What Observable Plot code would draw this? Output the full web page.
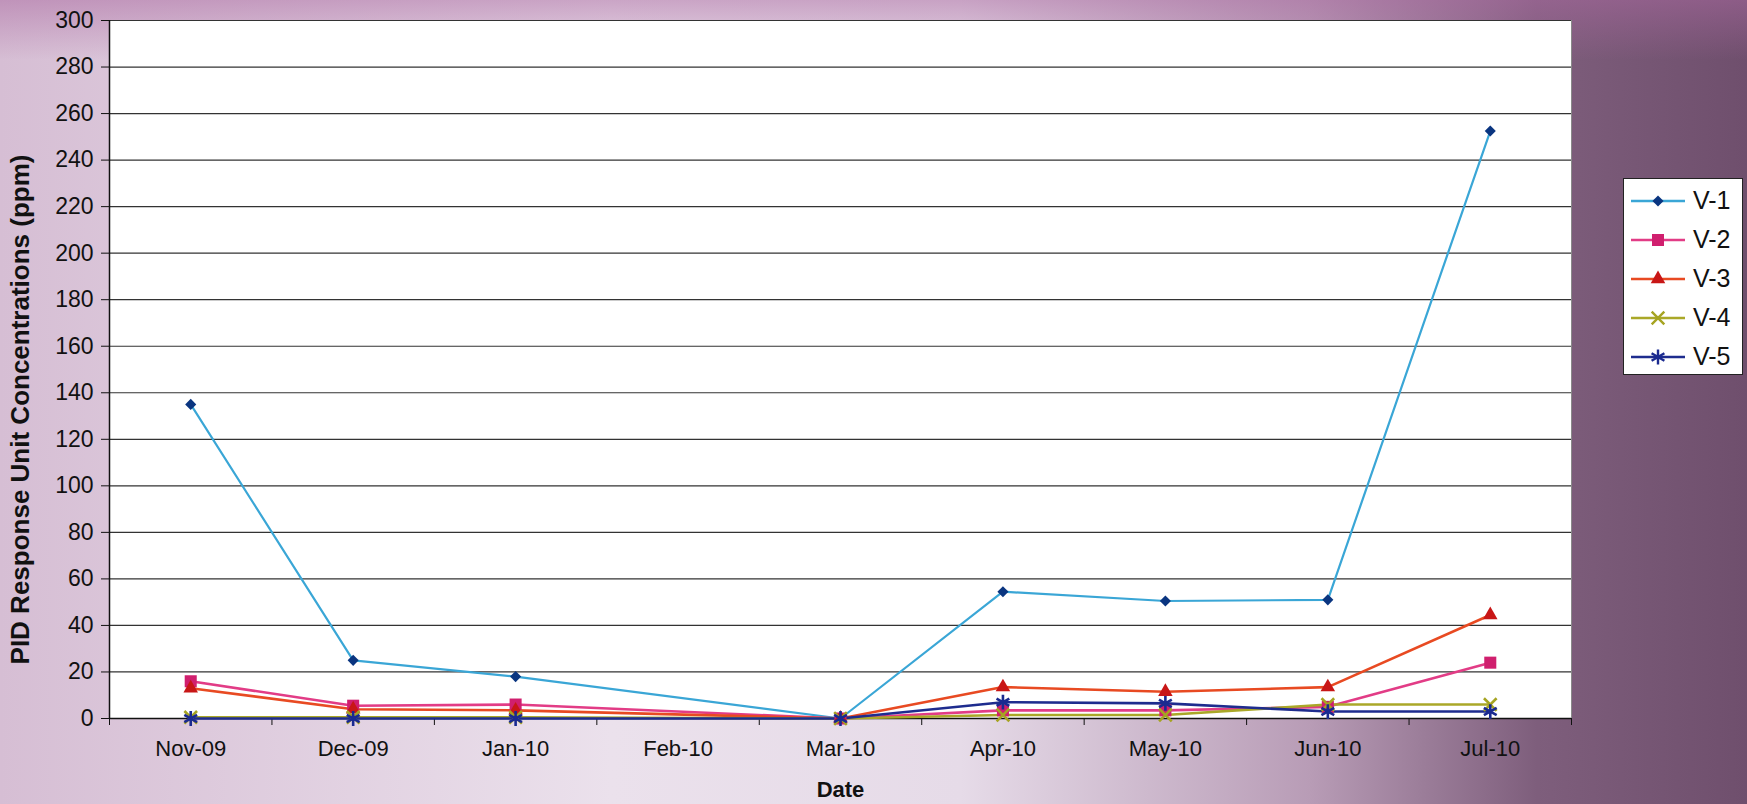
<!DOCTYPE html>
<html>
<head>
<meta charset="utf-8">
<script src="https://cdn.jsdelivr.net/npm/d3@7"></script>
<script src="https://cdn.jsdelivr.net/npm/@observablehq/plot@0.6"></script>
<style>
  html, body { margin: 0; padding: 0; }
  body {
    width: 1747px; height: 804px; overflow: hidden; position: relative;
    font-family: "Liberation Sans", Arial, sans-serif;
    background:
      linear-gradient(to bottom, rgba(170,105,160,0.5) 0px, rgba(170,105,160,0) 60px),
      linear-gradient(to right, #d6bed4 0%, #ebe1ec 35%, #e6dbe8 55%, #b89cb6 75%, #7e5e7c 88%, #6f4f6d 100%);
  }
  #chart { position: absolute; left: 0; top: 0; }
  #chart svg { background: transparent !important; }
  #chart [aria-label="y-axis label"] text { font-weight: bold; font-size: 26px; }
  #chart [aria-label="x-axis label"] text { font-weight: bold; font-size: 22px; }
  #legend {
    position: absolute; left: 1623px; top: 178px; width: 120px; height: 197px;
    background: white; border: 1.5px solid #222; box-sizing: border-box;
    padding-top: 2px;
  }
  .row { display: flex; align-items: center; height: 39px; }
  .row svg { margin-left: 6px; }
  .row span { font-size: 25px; margin-left: 7px; color: #111; }
</style>
</head>
<body>
<div id="chart"></div>
<div id="legend"></div>
<script>
const months = ["Nov-09","Dec-09","Jan-10","Feb-10","Mar-10","Apr-10","May-10","Jun-10","Jul-10"];
const seriesNames = ["V-1","V-2","V-3","V-4","V-5"];
const v1 = [135, 25, 18, null, 0, 54.5, 50.5, 51, 252.5];
const v2 = [16, 5.5, 6, null, 0, 3.5, 3.5, 5, 24];
const v3 = [13, 4, 3.5, null, 0, 13.5, 11.5, 13.5, 44.5];
const v4 = [0.5, 0.5, 0.5, null, 0, 1.5, 1.5, 6, 6];
const v5 = [0, 0, 0, null, 0, 7, 6.5, 3, 3];
const yTicks = d3.range(0, 301, 20);

const lineColors = ["#3aa6d6", "#e23c86", "#e84a22", "#aaa828", "#1e2c8e"];
const markColors = ["#0a3580", "#d01f6e", "#c81616", "#a6a422", "#1a2a90"];
const symbols = ["diamond2", "square", "triangle", "times", "asterisk"];
const radii = [5, 6.8, 5.4, 5.8, 7];
const strokeSym = [false, false, false, true, true];

const allValues = [v1, v2, v3, v4, v5];
const series = seriesNames.map((name, s) => ({
  name,
  data: allValues[s].map((y, i) => ({i, month: months[i], y})).filter(d => d.y != null)
}));

const marks = [
  Plot.frame({fill: "white", stroke: "#8a8a8a"}),
  Plot.gridY(yTicks, {stroke: "#333", strokeOpacity: 1, strokeWidth: 1.2}),
  Plot.ruleX([-0.5], {stroke: "#111", strokeWidth: 1.5}),
  Plot.ruleY([0], {stroke: "#111", strokeWidth: 1.5}),
  Plot.axisY(yTicks, {anchor: "left", tickSize: 8, tickPadding: 8, fontSize: 23, stroke: "#111",
    label: "PID Response Unit Concentrations (ppm)", labelArrow: "none", labelAnchor: "center", labelOffset: 99}),
  Plot.axisX(d3.range(-0.5, 9, 1), {anchor: "bottom", tickSize: 7, tickFormat: () => "", stroke: "#111", label: null}),
  Plot.axisX(d3.range(0, 9), {anchor: "bottom", tickSize: 0, tickPadding: 22, fontSize: 22,
    tickFormat: i => months[i], label: "Date", labelArrow: "none", labelAnchor: "center", labelOffset: 78})
];
series.forEach((s, k) => {
  marks.push(Plot.line(s.data, {x: "i", y: "y", stroke: lineColors[k], strokeWidth: k === 0 ? 2.2 : 2.6}));
});
series.forEach((s, k) => {
  const opts = {x: "i", y: "y", symbol: () => symbols[k], r: radii[k]};
  if (strokeSym[k]) { opts.stroke = markColors[k]; opts.strokeWidth = 2.6; opts.fill = "none"; }
  else { opts.fill = markColors[k]; opts.stroke = "none"; }
  marks.push(Plot.dot(s.data, opts));
});

const plot = Plot.plot({
  width: 1747, height: 804,
  marginLeft: 109, marginRight: 176, marginTop: 20, marginBottom: 86,
  style: {fontFamily: "'Liberation Sans', Arial, sans-serif", fontSize: "22px", color: "#111", background: "transparent"},
  x: {type: "linear", domain: [-0.5, 8.5], axis: null},
  y: {domain: [0, 300], axis: null},
  symbol: {type: "identity"},
  marks
});
// remove any arrow glyphs in axis labels (fallback for older Plot versions)
plot.querySelectorAll('[aria-label$="axis label"] text, [aria-label$="axis label"] tspan').forEach(t => {
  if (t.childNodes.length === 1 && t.firstChild.nodeType === 3) t.textContent = t.textContent.replace(/\s*[↑→←↓]\s*/g, "");
});
// the original axis title sits a little below the plot's vertical centre
plot.querySelectorAll('[aria-label="y-axis label"]').forEach(g => {
  g.setAttribute("transform", ((g.getAttribute("transform") || "") + " translate(0,40)").trim());
});
document.getElementById("chart").appendChild(plot);

// Legend
const legend = d3.select("#legend");
const symMap = {diamond2: d3.symbolDiamond2, square: d3.symbolSquare, triangle: d3.symbolTriangle, times: d3.symbolTimes, asterisk: d3.symbolAsterisk};
seriesNames.forEach((name, k) => {
  const row = legend.append("div").attr("class", "row");
  const svg = row.append("svg").attr("width", 56).attr("height", 20);
  svg.append("line").attr("x1", 1).attr("x2", 55).attr("y1", 10).attr("y2", 10)
    .attr("stroke", lineColors[k]).attr("stroke-width", 2.4);
  const p = svg.append("path").attr("transform", "translate(28,10)")
    .attr("d", d3.symbol(symMap[symbols[k]], Math.PI * radii[k] * radii[k])());
  if (strokeSym[k]) p.attr("fill", "none").attr("stroke", markColors[k]).attr("stroke-width", 2.4);
  else p.attr("fill", markColors[k]);
  row.append("span").text(name);
});
</script>
</body>
</html>
